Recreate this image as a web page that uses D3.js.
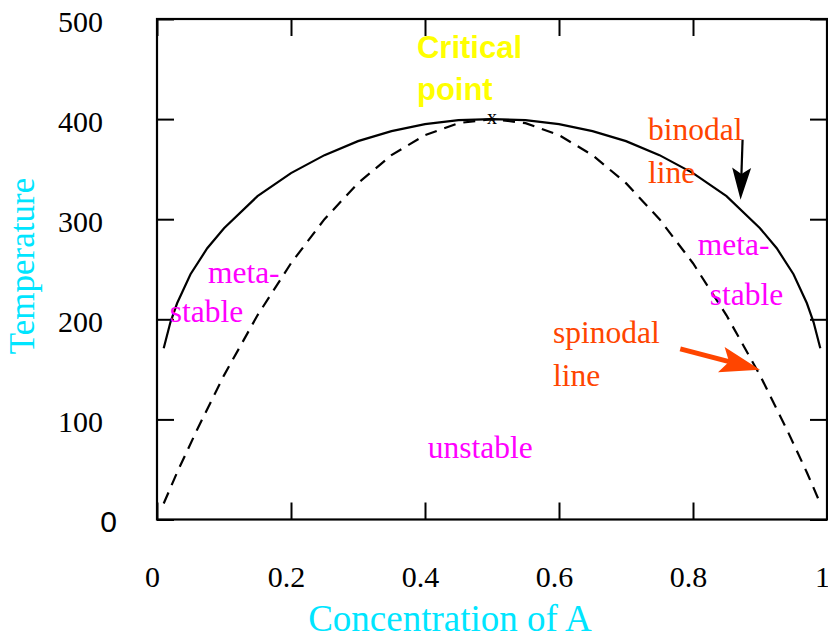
<!DOCTYPE html>
<html>
<head>
<meta charset="utf-8">
<script src="https://cdn.jsdelivr.net/npm/d3@7"></script>
<style>
  html, body { margin: 0; padding: 0; background: #fff; }
  svg { display: block; }
</style>
</head>
<body>
<svg id="chart" width="828" height="637"></svg>
<script>
// Phase diagram of a binary mixture: binodal (coexistence) and spinodal curves.

// Concentration of A at which each curve was sampled
const binodalX = [0.01, 0.02, 0.03, 0.05, 0.075, 0.1, 0.15, 0.2, 0.25, 0.3, 0.35, 0.4, 0.45, 0.5,
                  0.55, 0.6, 0.65, 0.7, 0.75, 0.8, 0.85, 0.9, 0.925, 0.95, 0.97, 0.98, 0.99];
const binodalT = [171, 197, 216, 245, 271, 291, 323, 346, 364, 378, 388, 395, 399, 400,
                  399, 395, 388, 378, 364, 346, 323, 291, 271, 245, 216, 197, 171];

const spinodalX = [0.01, 0.03, 0.06, 0.1, 0.15, 0.2, 0.25, 0.3, 0.35, 0.4, 0.45, 0.5,
                   0.55, 0.6, 0.65, 0.7, 0.75, 0.8, 0.85, 0.9, 0.94, 0.97, 0.99];
const spinodalT = [16, 47, 90, 144, 204, 256, 300, 336, 364, 384, 396, 400,
                   396, 384, 364, 336, 300, 256, 204, 144, 90, 47, 16];

// Critical point
const criticalX = 0.5;
const criticalT = 400;

// Tick values
const xTicks = [0, 0.2, 0.4, 0.6, 0.8, 1];
const xTickLabels = ["0", "0.2", "0.4", "0.6", "0.8", "1"];
const yTicks = [0, 100, 200, 300, 400, 500];
const yTickLabels = ["0", "100", "200", "300", "400", "500"];

// Region / curve annotations (anchored in data units)
const regionLabels = [
  { text: "meta-",    x: 0.076, t: 236.5, color: "#ff00ff" },
  { text: "stable",   x: 0.019, t: 197.5, color: "#ff00ff" },
  { text: "meta-",    x: 0.807, t: 264.5, color: "#ff00ff" },
  { text: "stable",   x: 0.825, t: 214.5, color: "#ff00ff" },
  { text: "unstable", x: 0.404, t: 61.5,  color: "#ff00ff" },
  { text: "binodal",  x: 0.733, t: 379.5, color: "#ff4500" },
  { text: "line",     x: 0.733, t: 336.5, color: "#ff4500" },
  { text: "spinodal", x: 0.591, t: 176.5, color: "#ff4500" },
  { text: "line",     x: 0.591, t: 133.5, color: "#ff4500" }
];
const criticalLabel = [
  { text: "Critical", x: 0.388, t: 461.5 },
  { text: "point",    x: 0.388, t: 419.5 }
];

// Pointer arrows: from (x0,t0) to tip (x1,t1)
const arrows = [
  { x0: 0.874, t0: 379.5, x1: 0.871, t1: 319.5, color: "#000000", shaft: 2.2, headLen: 32, headHalf: 9.5 },
  { x0: 0.781, t0: 170.5, x1: 0.900, t1: 149.5, color: "#ff4500", shaft: 5,   headLen: 40, headHalf: 13 }
];

const svg = d3.select("#chart");
const plotLeft = 157, plotRight = 827, plotTop = 19, plotBottom = 519.5;

const x = d3.scaleLinear().domain([0, 1]).range([plotLeft, plotRight]);
const y = d3.scaleLinear().domain([0, 500]).range([plotBottom, plotTop]);

const serif = "'Liberation Serif', 'Times New Roman', serif";
const sans = "'Liberation Sans', Arial, Helvetica, sans-serif";
const tickLen = 17;

// Axes with inward ticks on all four sides
const gBottom = svg.append("g").attr("transform", `translate(0,${plotBottom})`)
  .call(d3.axisBottom(x).tickValues(xTicks).tickSize(-tickLen)
    .tickFormat((d, i) => xTickLabels[i]));
gBottom.selectAll("text")
  .attr("y", 67).attr("dy", 0).attr("x", -5)
  .style("font-family", serif).style("font-size", "30px").attr("fill", "#000");

const gLeft = svg.append("g").attr("transform", `translate(${plotLeft},0)`)
  .call(d3.axisLeft(y).tickValues(yTicks).tickSize(-tickLen)
    .tickFormat((d, i) => yTickLabels[i]));
gLeft.selectAll("text")
  .attr("x", -54).attr("dy", "0.4em")
  .style("font-family", serif).style("font-size", "30px").attr("fill", "#000");
gLeft.selectAll(".tick").filter(d => d === 0).select("text")
  .attr("x", -40).style("font-family", sans).style("font-size", "30px");

svg.append("g").attr("transform", `translate(0,${plotTop})`)
  .call(d3.axisTop(x).tickValues(xTicks).tickSize(-tickLen).tickFormat(""));
svg.append("g").attr("transform", `translate(${plotRight},0)`)
  .call(d3.axisRight(y).tickValues(yTicks).tickSize(-tickLen).tickFormat(""));

svg.selectAll(".domain").remove();
svg.selectAll(".tick line").attr("stroke", "#000").attr("stroke-width", 2);

// Frame
svg.append("rect")
  .attr("x", plotLeft).attr("y", plotTop)
  .attr("width", plotRight - plotLeft).attr("height", plotBottom - plotTop)
  .attr("fill", "none").attr("stroke", "#000").attr("stroke-width", 2.2);

// Curves
const line = d3.line().x(d => x(d[0])).y(d => y(d[1]));

svg.append("path")
  .datum(binodalX.map((v, i) => [v, binodalT[i]]))
  .attr("d", line)
  .attr("fill", "none").attr("stroke", "#000").attr("stroke-width", 2.2);

svg.append("path")
  .datum(spinodalX.map((v, i) => [v, spinodalT[i]]))
  .attr("d", line)
  .attr("fill", "none").attr("stroke", "#000").attr("stroke-width", 2.2)
  .attr("stroke-dasharray", "12,8");

// Critical point marker
svg.append("text")
  .attr("x", x(criticalX)).attr("y", y(criticalT))
  .attr("text-anchor", "middle").attr("dy", "0.25em")
  .style("font-family", serif).style("font-size", "20px")
  .text("x");

// Arrows
arrows.forEach(a => {
  const sx = x(a.x0), sy = y(a.t0), tx = x(a.x1), ty = y(a.t1);
  const dx = tx - sx, dy = ty - sy, len = Math.hypot(dx, dy);
  const ux = dx / len, uy = dy / len, px = -uy, py = ux;
  const bx = tx - ux * a.headLen, by = ty - uy * a.headLen;
  const nx = tx - ux * a.headLen * 0.8, ny = ty - uy * a.headLen * 0.8;
  svg.append("line")
    .attr("x1", sx).attr("y1", sy).attr("x2", nx).attr("y2", ny)
    .attr("stroke", a.color).attr("stroke-width", a.shaft);
  svg.append("path")
    .attr("d", `M${tx},${ty}L${bx + px * a.headHalf},${by + py * a.headHalf}L${nx},${ny}L${bx - px * a.headHalf},${by - py * a.headHalf}Z`)
    .attr("fill", a.color);
});

// Annotation text
svg.selectAll("text.region").data(regionLabels).enter().append("text")
  .attr("class", "region")
  .attr("x", d => x(d.x)).attr("y", d => y(d.t))
  .attr("fill", d => d.color)
  .style("font-family", serif).style("font-size", "31.5px")
  .text(d => d.text);

svg.selectAll("text.crit").data(criticalLabel).enter().append("text")
  .attr("class", "crit")
  .attr("x", d => x(d.x)).attr("y", d => y(d.t))
  .attr("fill", "#ffff00")
  .style("font-family", sans).style("font-size", "31px").style("font-weight", "bold")
  .text(d => d.text);

// Axis titles
svg.append("text")
  .attr("x", 450).attr("y", 631)
  .attr("text-anchor", "middle")
  .attr("fill", "#00e5ff")
  .style("font-family", serif).style("font-size", "37px")
  .text("Concentration of A");

svg.append("text")
  .attr("transform", "translate(34,266) rotate(-90)")
  .attr("text-anchor", "middle")
  .attr("fill", "#00e5ff")
  .style("font-family", serif).style("font-size", "35px")
  .text("Temperature");
</script>
</body>
</html>
